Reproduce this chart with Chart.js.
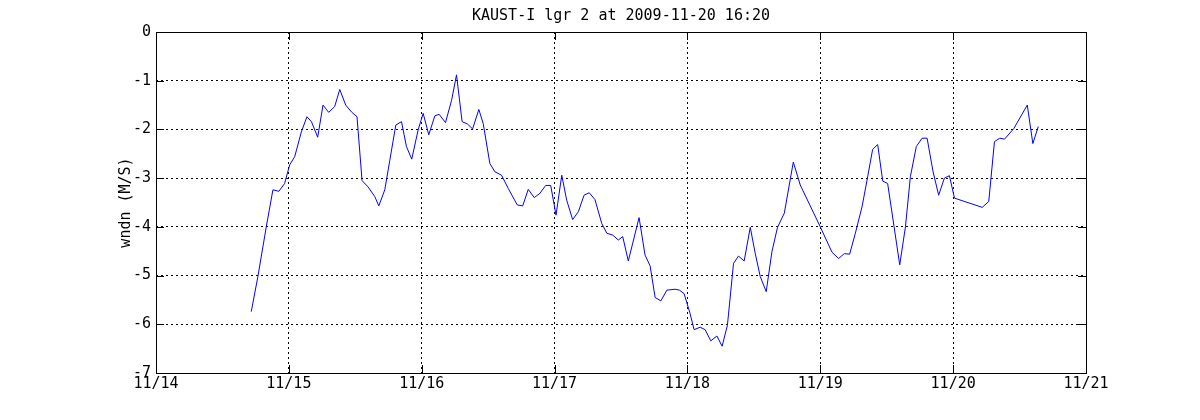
<!DOCTYPE html>
<html>
<head>
<meta charset="utf-8">
<script src="https://cdn.jsdelivr.net/npm/chart.js@4"></script>
<style>
  html, body { margin: 0; padding: 0; background: #fff; }
  #wrap { width: 1200px; height: 420px; }
</style>
</head>
<body>
<div id="wrap"><canvas id="wndn"></canvas></div>
<script>
// time in days of November 2009 (fractional)
const days = [
  14.717, 14.767, 14.830, 14.880, 14.925, 14.968, 15.006, 15.044, 15.094, 15.136,
  15.170, 15.217, 15.257, 15.300, 15.345, 15.383, 15.428, 15.471, 15.513, 15.551,
  15.596, 15.647, 15.677, 15.722, 15.760, 15.805, 15.848, 15.885, 15.925, 15.973,
  16.011, 16.053, 16.099, 16.131, 16.179, 16.225, 16.262, 16.304, 16.345, 16.383,
  16.430, 16.463, 16.513, 16.551, 16.601, 16.651, 16.719, 16.760, 16.802, 16.847,
  16.890, 16.933, 16.971, 17.011, 17.054, 17.091, 17.136, 17.179, 17.222, 17.261,
  17.304, 17.355, 17.393, 17.438, 17.480, 17.513, 17.555, 17.636, 17.681, 17.719,
  17.757, 17.800, 17.845, 17.907, 17.940, 17.975, 18.020, 18.050, 18.096, 18.133,
  18.176, 18.222, 18.261, 18.301, 18.347, 18.384, 18.427, 18.473, 18.510, 18.548,
  18.593, 18.636, 18.678, 18.729, 18.797, 18.849, 19.000, 19.088, 19.138, 19.181,
  19.221, 19.264, 19.314, 19.352, 19.394, 19.432, 19.470, 19.507, 19.548, 19.598,
  19.641, 19.678, 19.723, 19.766, 19.804, 19.849, 19.891, 19.934, 19.972, 20.010,
  20.219, 20.268, 20.311, 20.351, 20.387, 20.457, 20.558, 20.600, 20.641
];
const wndn = [
  -5.74, -5.02, -4.00, -3.24, -3.27, -3.11, -2.73, -2.56, -2.05, -1.74,
  -1.84, -2.16, -1.50, -1.65, -1.53, -1.18, -1.50, -1.64, -1.74, -3.05,
  -3.18, -3.38, -3.57, -3.24, -2.63, -1.91, -1.84, -2.35, -2.61, -2.01,
  -1.67, -2.11, -1.72, -1.69, -1.86, -1.40, -0.88, -1.84, -1.89, -1.99,
  -1.59, -1.88, -2.70, -2.87, -2.94, -3.21, -3.55, -3.57, -3.23, -3.40,
  -3.31, -3.15, -3.15, -3.76, -2.94, -3.45, -3.85, -3.69, -3.35, -3.30,
  -3.44, -3.93, -4.13, -4.17, -4.27, -4.20, -4.70, -3.81, -4.58, -4.80,
  -5.45, -5.52, -5.30, -5.28, -5.30, -5.37, -5.78, -6.11, -6.06, -6.11,
  -6.34, -6.24, -6.45, -6.02, -4.75, -4.60, -4.70, -4.01, -4.54, -5.02,
  -5.33, -4.51, -4.01, -3.72, -2.67, -3.14, -4.00, -4.52, -4.65, -4.55,
  -4.56, -4.13, -3.59, -3.04, -2.41, -2.31, -3.06, -3.11, -3.86, -4.78,
  -4.00, -2.97, -2.35, -2.18, -2.18, -2.87, -3.35, -3.00, -2.95, -3.41,
  -3.60, -3.48, -2.25, -2.18, -2.20, -1.98, -1.50, -2.29, -1.94
];
const xTicks = [14, 15, 16, 17, 18, 19, 20, 21];
const yTicks = [0, -1, -2, -3, -4, -5, -6, -7];
const titleText = 'KAUST-I lgr 2 at 2009-11-20 16:20';
const yLabel = 'wndn (M/S)';

const FONT = 'DejaVu Sans Mono';

const points = days.map((d, i) => ({ x: d, y: wndn[i] }));

// box, inward ticks, title and y label like the matlab figure
const matlabFrame = {
  id: 'matlabFrame',
  afterDraw(chart) {
    const { ctx, chartArea: a, scales } = chart;
    ctx.save();
    ctx.strokeStyle = '#000';
    ctx.lineWidth = 1;
    ctx.setLineDash([]);
    ctx.strokeRect(Math.round(a.left) + 0.5, Math.round(a.top) + 0.5,
      Math.round(a.right - a.left), Math.round(a.bottom - a.top));
    const tl = 8;
    ctx.beginPath();
    xTicks.forEach(v => {
      const px = Math.round(scales.x.getPixelForValue(v)) + 0.5;
      ctx.moveTo(px, a.top); ctx.lineTo(px, a.top + tl);
      ctx.moveTo(px, a.bottom); ctx.lineTo(px, a.bottom - tl);
    });
    yTicks.forEach(v => {
      const py = Math.round(scales.y.getPixelForValue(v)) + 0.5;
      ctx.moveTo(a.left, py); ctx.lineTo(a.left + tl, py);
      ctx.moveTo(a.right, py); ctx.lineTo(a.right - tl, py);
    });
    ctx.stroke();

    ctx.fillStyle = '#000';
    ctx.font = '15px "' + FONT + '"';
    ctx.textAlign = 'center';
    ctx.textBaseline = 'middle';
    ctx.fillText(titleText, (a.left + a.right) / 2, 16);

    ctx.translate(126, (a.top + a.bottom) / 2);
    ctx.rotate(-Math.PI / 2);
    ctx.fillText(yLabel, 0, 0);
    ctx.restore();
  }
};

const ctx = document.getElementById('wndn').getContext('2d');
const chart = new Chart(ctx, {
  type: 'line',
  data: {
    datasets: [{
      data: points,
      borderColor: '#0000ff',
      borderWidth: 1,
      pointRadius: 0,
      tension: 0,
      fill: false
    }]
  },
  options: {
    responsive: true,
    maintainAspectRatio: false,
    animation: false,
    layout: { padding: { top: 32, right: 114, left: 0, bottom: 0 } },
    plugins: {
      legend: { display: false },
      tooltip: { enabled: false },
      title: { display: false }
    },
    scales: {
      x: {
        type: 'linear',
        min: 14,
        max: 21,
        afterFit: s => { s.height = 47; },
        afterBuildTicks: s => { s.ticks = xTicks.map(v => ({ value: v })); },
        ticks: {
          color: '#000',
          font: { family: FONT, size: 15 },
          padding: 2,
          maxRotation: 0,
          callback: v => '11/' + v
        },
        grid: { color: '#000', lineWidth: 1, drawTicks: false },
        border: { display: false, dash: [2, 3] }
      },
      y: {
        min: -7,
        max: 0,
        afterFit: s => { s.width = 156; },
        afterBuildTicks: s => { s.ticks = yTicks.map(v => ({ value: v })); },
        ticks: {
          color: '#000',
          font: { family: FONT, size: 15 },
          padding: 5,
          callback: v => String(v)
        },
        grid: { color: '#000', lineWidth: 1, drawTicks: false },
        border: { display: false, dash: [2, 3] }
      }
    }
  },
  plugins: [matlabFrame]
});
</script>
</body>
</html>
